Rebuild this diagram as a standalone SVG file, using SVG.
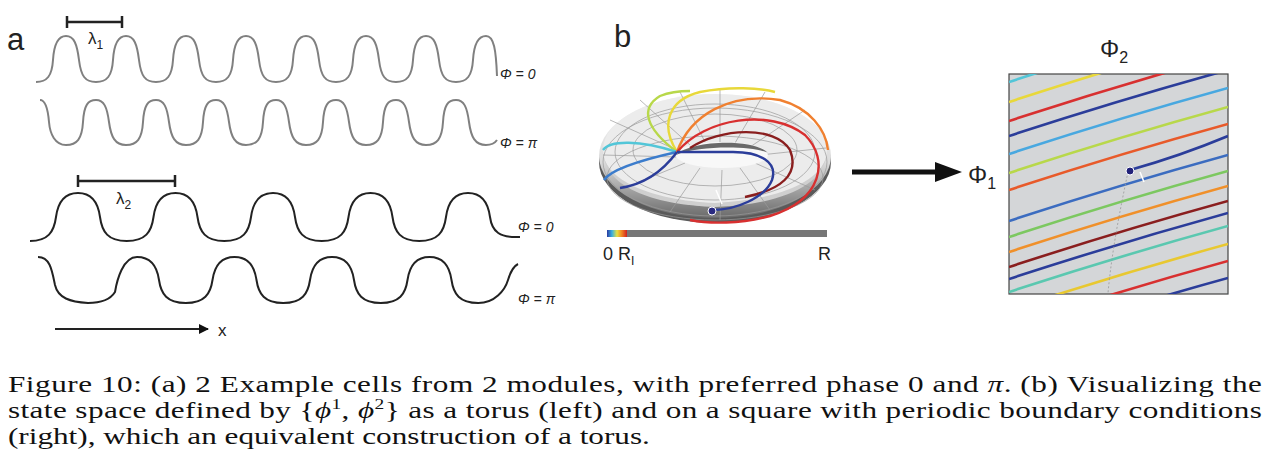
<svg xmlns="http://www.w3.org/2000/svg" width="1267" height="470" viewBox="0 0 1267 470">
<defs>
<style>
.lbl{font-family:"Liberation Sans",Arial,sans-serif;fill:#222}
.phi{font-family:"Liberation Sans",Arial,sans-serif;font-style:italic;font-size:14px;fill:#222}
.cap{font-family:"Liberation Serif","Times New Roman",serif;font-size:24px;fill:#111}
.w1{fill:none;stroke:#808080;stroke-width:2}
.w2{fill:none;stroke:#222;stroke-width:2}
.sq{fill:none;stroke-width:2.6}
.sp{fill:none;stroke-width:2.4}
.mesh{fill:none;stroke:#9a9a9a;stroke-width:0.7}
</style>
<clipPath id="sqc"><rect x="1009" y="74" width="219" height="220"/></clipPath>
<linearGradient id="rb" x1="0" x2="1" y1="0" y2="0">
<stop offset="0" stop-color="#2b3aa0"/><stop offset="0.25" stop-color="#3ab0e0"/><stop offset="0.5" stop-color="#e8e040"/><stop offset="0.75" stop-color="#f08020"/><stop offset="1" stop-color="#d02020"/>
</linearGradient>
<linearGradient id="tg" x1="0" x2="0" y1="0" y2="1">
<stop offset="0" stop-color="#f4f4f4"/><stop offset="0.55" stop-color="#dcdcdc"/><stop offset="0.75" stop-color="#a8a8a8"/><stop offset="1" stop-color="#6a6a6a"/>
</linearGradient>
<marker id="ah" viewBox="0 0 10 10" refX="9" refY="5" markerWidth="5" markerHeight="5" orient="auto"><path d="M0,0 L10,5 L0,10 z" fill="#111"/></marker>
</defs>

<g id="panel-a">
<text class="lbl" x="7" y="50" font-size="31">a</text>
<g id="lambda1"><path d="M67,22 H122 M67,16 V28 M122,16 V28" stroke="#222" stroke-width="2.5" fill="none"/>
<text class="lbl" x="88" y="44" font-size="17">λ<tspan font-size="12" dy="5">1</tspan></text></g>
<path class="w1" d="M36,82 C47,82 52,76 53,60 S58,36 66,36 C74,36 77,44 79,60 S85,82 96,82 C107,82 112,76 113,60 S118,36 126,36 C134,36 137,44 139,60 S145,82 156,82 C167,82 172,76 173,60 S178,36 186,36 C194,36 197,44 199,60 S205,82 216,82 C227,82 232,76 233,60 S238,36 246,36 C254,36 257,44 259,60 S265,82 276,82 C287,82 292,76 293,60 S298,36 306,36 C314,36 317,44 319,60 S325,82 336,82 C347,82 352,76 353,60 S358,36 366,36 C374,36 377,44 379,60 S385,82 396,82 C407,82 412,76 413,60 S418,36 426,36 C434,36 437,44 439,60 S445,82 456,82 C467,82 472,76 473,60 S478,36 486,36 C494,36 496,50 497,76"/>
<text class="phi" x="500" y="79">Φ = 0</text>
<path class="w1" d="M40,100 C46,100 48,110 49,122 S55,145 66,145 C77,145 82,139 83,122 S88,100 96,100 C104,100 107,107 109,122 S115,145 126,145 C137,145 142,139 143,122 S148,100 156,100 C164,100 167,107 169,122 S175,145 186,145 C197,145 202,139 203,122 S208,100 216,100 C224,100 227,107 229,122 S235,145 246,145 C257,145 262,139 263,122 S268,100 276,100 C284,100 287,107 289,122 S295,145 306,145 C317,145 322,139 323,122 S328,100 336,100 C344,100 347,107 349,122 S355,145 366,145 C377,145 382,139 383,122 S388,100 396,100 C404,100 407,107 409,122 S415,145 426,145 C437,145 442,139 443,122 S448,100 456,100 C464,100 467,107 469,122 S475,145 486,145 C492,145 495,143 497,140"/>
<text class="phi" x="500" y="148">Φ = π</text>
<g id="lambda2"><path d="M78,181 H175 M78,175 V187 M175,175 V187" stroke="#222" stroke-width="2.5" fill="none"/>
<text class="lbl" x="116" y="204" font-size="17">λ<tspan font-size="12" dy="5">2</tspan></text></g>
<path class="w2" d="M30,241 C48,241 54,232 56,217 S64,193 78,193 C92,193 98,202 100,217 S108,241 126.75,241 C145.5,241 151.5,232 153.5,217 S161.5,193 175.5,193 C189.5,193 195.5,202 197.5,217 S205.5,241 224.25,241 C243,241 249,232 251,217 S259,193 273,193 C287,193 293,202 295,217 S303,241 321.75,241 C340.5,241 346.5,232 348.5,217 S356.5,193 370.5,193 C384.5,193 390.5,202 392.5,217 S400.5,241 419.25,241 C438,241 444,232 446,217 S454,193 468,193 C482,193 488,202 490,217 S500,238 520,237"/>
<text class="phi" x="518" y="232">Φ = 0</text>
<path class="w2" d="M38,257 C50,257 52,270 55,285 C58,298 70,302 88,303 C100,303 110,300 115,292 C117,280 123,257 137,257 C151,257 157,266 159,280 S167,303 185.75,303 C204.5,303 210.5,294 212.5,280 S220.5,257 234.5,257 C248.5,257 254.5,266 256.5,280 S264.5,303 283.25,303 C302,303 308,294 310,280 S318,257 332,257 C346,257 352,266 354,280 S362,303 380.75,303 C399.5,303 405.5,294 407.5,280 S415.5,257 429.5,257 C443.5,257 449.5,266 451.5,280 S459.5,303 478.25,303 C495,303 505,290 508,280 S514,266 518,264"/>
<text class="phi" x="518" y="304">Φ = π</text>
<line x1="55" y1="329" x2="208" y2="329" stroke="#222" stroke-width="2" marker-end="url(#ah)"/>
<text class="lbl" x="218" y="336" font-size="17">x</text>
</g>

<g id="panel-b">
<text class="lbl" x="614" y="47" font-size="31">b</text>
<g id="torus">
<ellipse cx="715" cy="162" rx="116" ry="61" fill="#5a5a5a"/>
<ellipse cx="715" cy="156" rx="116" ry="62" fill="url(#tg)"/>
<ellipse cx="715" cy="150" rx="112" ry="56" fill="#ececec"/>
<path d="M603,152 C605,190 660,205 715,207 C770,205 825,190 827,152 C825,180 780,200 715,203 C650,200 605,180 603,152z" fill="#cfcfcf"/>
<ellipse cx="715" cy="150" rx="82" ry="36" class="mesh"/>
<ellipse cx="715" cy="152" rx="100" ry="48" class="mesh"/>
<ellipse cx="715" cy="162" rx="112" ry="54" class="mesh"/>
<ellipse cx="715" cy="178" rx="108" ry="42" class="mesh"/>
<g class="mesh">
<path d="M677,150 L610,120 M690,145 L640,100 M705,142 L680,92 M720,142 L720,90 M735,143 L765,92 M750,147 L805,110 M760,155 L826,148 M755,163 L815,190 M740,168 L770,210 M722,170 L720,220 M700,168 L670,212 M685,163 L620,190 M676,157 L603,155"/>
</g>
<ellipse cx="722" cy="155" rx="46" ry="13" fill="#f8f8f8"/>
<path d="M676,155 C690,140 755,138 768,153 C755,146 700,145 676,155z" fill="#6a6a6a"/>
<path class="sp" stroke="#e8d83a" d="M677,152 C660,125 668,100 700,92 C730,86 760,88 775,92"/>
<path class="sp" stroke="#b8d84a" d="M677,152 C645,128 640,108 660,96 C670,92 680,91 690,91"/>
<path class="sp" stroke="#52c6d8" d="M677,152 C640,140 610,140 603,150"/>
<path class="sp" stroke="#3b7ccc" d="M677,152 C650,158 612,168 604,180"/>
<path class="sp" stroke="#2b3d9a" d="M677,152 C660,175 640,185 620,188"/>
<path class="sp" stroke="#f08030" d="M677,152 C690,115 730,92 780,100 C810,108 826,130 828,150"/>
<path class="sp" stroke="#d83030" d="M677,152 C705,118 770,108 805,135 C830,160 822,200 770,216 C740,224 710,224 690,220"/>
<path class="sp" stroke="#8a1e1e" d="M690,148 C720,128 775,125 790,150 C800,175 780,190 745,197"/>
<path class="sp" stroke="#2b3d9a" d="M713,210 C735,210 765,198 772,180 C778,162 760,152 733,152 C710,152 690,152 677,152"/>
<line x1="716" y1="190" x2="722" y2="204" stroke="#fff" stroke-width="1.5"/>
<circle cx="712" cy="211" r="4" fill="#2a2a80" stroke="#fff" stroke-width="1"/>
</g>
<g id="scale">
<rect x="607" y="230" width="220" height="7" fill="#777"/>
<rect x="607" y="230" width="20" height="7" fill="url(#rb)"/>
<text class="lbl" x="603" y="260" font-size="18">0 R<tspan font-size="12" dy="5">I</tspan></text>
<text class="lbl" x="818" y="260" font-size="18">R</text>
</g>
</g>

<g id="connectors">
<line x1="852" y1="172" x2="940" y2="172" stroke="#111" stroke-width="5"/>
<path d="M935,162 L962,172 L935,182z" fill="#111"/>
</g>

<g id="square">
<text class="lbl" x="1100" y="57" font-size="24">Φ<tspan font-size="16" dy="6">2</tspan></text>
<text class="lbl" x="968" y="183" font-size="24">Φ<tspan font-size="16" dy="6">1</tspan></text>
<rect x="1009" y="74" width="219" height="220" fill="#d4d6d8" stroke="#444" stroke-width="1.2"/>
<g clip-path="url(#sqc)">
<path class="sq" stroke="#52c6d8" d="M1009,82 q110,-36 219,-66"/>
<path class="sq" stroke="#e8d83a" d="M1009,102 q110,-36 219,-66"/>
<path class="sq" stroke="#d83030" d="M1009,121 q110,-36 219,-66"/>
<path class="sq" stroke="#2b3d9a" d="M1009,136 q110,-36 219,-66"/>
<path class="sq" stroke="#48a8e0" d="M1009,154 q110,-36 219,-66"/>
<path class="sq" stroke="#b8d84a" d="M1009,173 q110,-36 219,-66"/>
<path class="sq" stroke="#e85a2a" d="M1009,190 q110,-36 219,-66"/>
<path class="sq" stroke="#2b3d9a" d="M1130,170 q50,-14 98,-34"/>
<path class="sq" stroke="#3b6cc0" d="M1009,221 q110,-36 219,-66"/>
<path class="sq" stroke="#7cc860" d="M1009,237 q110,-36 219,-66"/>
<path class="sq" stroke="#f0902a" d="M1009,252 q110,-36 219,-66"/>
<path class="sq" stroke="#8a1e1e" d="M1009,267 q110,-36 219,-66"/>
<path class="sq" stroke="#2b3d9a" d="M1009,279 q110,-36 219,-66"/>
<path class="sq" stroke="#5ac8b0" d="M1009,292 q110,-36 219,-66"/>
<path class="sq" stroke="#e8c830" d="M1009,310 q110,-36 219,-66"/>
<path class="sq" stroke="#d83030" d="M1009,327 q110,-36 219,-66"/>
<path class="sq" stroke="#2b3d9a" d="M1009,344 q110,-36 219,-66"/>
<path class="sq" stroke="#52c6d8" d="M1009,361 q110,-36 219,-66"/>
</g>
<path d="M1128,172 C1120,210 1112,250 1108,293" stroke="#999" stroke-width="0.8" stroke-dasharray="2,2" fill="none"/>
<line x1="1140" y1="172" x2="1144" y2="182" stroke="#fff" stroke-width="1.5"/>
<circle cx="1130" cy="171" r="4" fill="#22227a" stroke="#fff" stroke-width="1"/>
</g>

<g id="caption" transform="scale(1.3,1)">
<text class="cap" x="6.15" y="392" textLength="964.6" lengthAdjust="spacing">Figure 10: (a) 2 Example cells from 2 modules, with preferred phase 0 and <tspan font-style="italic">π</tspan>. (b) Visualizing the</text>
<text class="cap" x="6.15" y="418" textLength="964.6" lengthAdjust="spacing">state space defined by {<tspan font-style="italic">ϕ</tspan><tspan font-size="15" dy="-9">1</tspan><tspan dy="9">, </tspan><tspan font-style="italic">ϕ</tspan><tspan font-size="15" dy="-9">2</tspan><tspan dy="9">} as a torus (left) and on a square with periodic boundary conditions</tspan></text>
<text class="cap" x="6.15" y="444">(right), which an equivalent construction of a torus.</text>
</g>
</svg>
